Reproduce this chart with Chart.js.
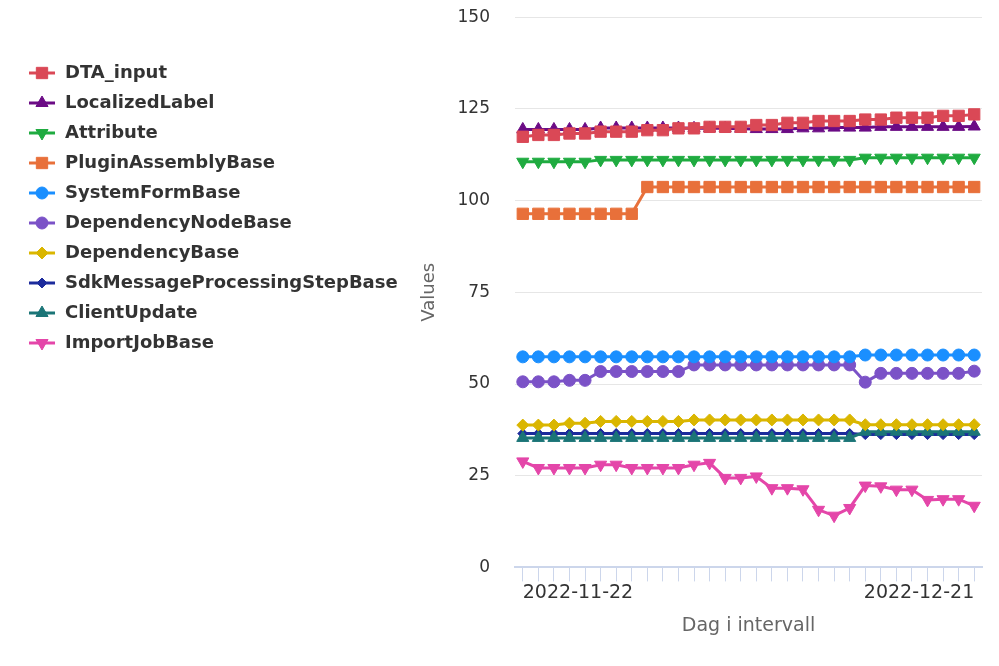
<!DOCTYPE html>
<html>
<head>
<meta charset="utf-8">
<script src="https://cdn.jsdelivr.net/npm/chart.js@4/dist/chart.umd.min.js"></script>
<style>
  html, body { margin: 0; padding: 0; background: #fff; }
  #wrap { width: 999px; height: 666px; }
</style>
</head>
<body>
<div id="wrap"><canvas id="chart" width="999" height="666"></canvas></div>
<script>
// x-axis days
const days = [
  '2022-11-22', '2022-11-23', '2022-11-24', '2022-11-25', '2022-11-26', '2022-11-27',
  '2022-11-28', '2022-11-29', '2022-11-30', '2022-12-01', '2022-12-02', '2022-12-03',
  '2022-12-04', '2022-12-05', '2022-12-06', '2022-12-07', '2022-12-08', '2022-12-09',
  '2022-12-10', '2022-12-11', '2022-12-12', '2022-12-13', '2022-12-14', '2022-12-15',
  '2022-12-16', '2022-12-17', '2022-12-18', '2022-12-19', '2022-12-20', '2022-12-21'
];

const yTicks = [0, 25, 50, 75, 100, 125, 150];

const dtaInput = [117.4, 117.9, 117.9, 118.3, 118.3, 118.8, 118.8, 118.8, 119.2, 119.2,
  119.7, 119.7, 120.1, 120.1, 120.1, 120.6, 120.6, 121.2, 121.2, 121.7,
  121.7, 121.7, 122.1, 122.1, 122.6, 122.6, 122.6, 123.1, 123.1, 123.5];
const localizedLabel = [119.4, 119.4, 119.4, 119.4, 119.4, 119.8, 119.8, 119.8, 119.8, 119.8,
  119.8, 119.7, 119.7, 119.7, 119.6, 119.5, 119.5, 119.5, 119.7, 119.7,
  119.9, 119.9, 119.9, 120.1, 120.1, 120.1, 120.1, 120.1, 120.1, 120.2];
const attribute = [110.6, 110.6, 110.6, 110.6, 110.6, 111.1, 111.1, 111.1, 111.1, 111.1,
  111.1, 111.1, 111.1, 111.1, 111.1, 111.1, 111.1, 111.1, 111.1, 111.1,
  111.1, 111.1, 111.7, 111.7, 111.7, 111.7, 111.7, 111.7, 111.7, 111.7];
const pluginAssemblyBase = [96.4, 96.4, 96.4, 96.4, 96.4, 96.4, 96.4, 96.4, 103.7, 103.7,
  103.7, 103.7, 103.7, 103.7, 103.7, 103.7, 103.7, 103.7, 103.7, 103.7,
  103.7, 103.7, 103.7, 103.7, 103.7, 103.7, 103.7, 103.7, 103.7, 103.7];
const systemFormBase = [57.4, 57.4, 57.4, 57.4, 57.4, 57.4, 57.4, 57.4, 57.4, 57.4,
  57.4, 57.4, 57.4, 57.4, 57.4, 57.4, 57.4, 57.4, 57.4, 57.4,
  57.4, 57.4, 57.9, 57.9, 57.9, 57.9, 57.9, 57.9, 57.9, 57.9];
const dependencyNodeBase = [50.6, 50.6, 50.6, 51.0, 51.0, 53.4, 53.4, 53.4, 53.4, 53.4,
  53.4, 55.2, 55.2, 55.2, 55.2, 55.2, 55.2, 55.2, 55.2, 55.2,
  55.2, 55.2, 50.5, 52.9, 52.9, 52.9, 52.9, 52.9, 52.9, 53.5];
const dependencyBase = [38.8, 38.8, 38.8, 39.3, 39.3, 39.8, 39.8, 39.8, 39.8, 39.8,
  39.8, 40.2, 40.2, 40.2, 40.2, 40.2, 40.2, 40.2, 40.2, 40.2,
  40.2, 40.2, 38.9, 38.9, 38.9, 38.9, 38.9, 38.9, 38.9, 38.9];
const sdkMessageProcessingStepBase = [36.5, 36.5, 36.5, 36.5, 36.5, 36.5, 36.5, 36.5, 36.5, 36.5,
  36.5, 36.5, 36.5, 36.5, 36.5, 36.5, 36.5, 36.5, 36.5, 36.5,
  36.5, 36.5, 36.2, 36.2, 36.2, 36.2, 36.2, 36.2, 36.2, 36.2];
const clientUpdate = [35.3, 35.3, 35.3, 35.3, 35.3, 35.3, 35.3, 35.3, 35.3, 35.3,
  35.3, 35.3, 35.3, 35.3, 35.3, 35.3, 35.3, 35.3, 35.3, 35.3,
  35.3, 35.3, 37.0, 37.0, 37.0, 37.0, 37.0, 37.0, 37.0, 37.0];
const importJobBase = [28.9, 27.1, 27.1, 27.1, 27.1, 28.0, 28.0, 27.1, 27.1, 27.1,
  27.1, 28.0, 28.5, 24.4, 24.4, 24.8, 21.6, 21.6, 21.3, 15.7,
  14.1, 16.2, 22.3, 22.1, 21.2, 21.2, 18.4, 18.6, 18.6, 16.8];

// label, data, colour, point style, radius, rotation
const series = [
  ['DTA_input', dtaInput, '#da4856', 'rect', 8, 0],
  ['LocalizedLabel', localizedLabel, '#6b0b85', 'triangle', 7, 0],
  ['Attribute', attribute, '#1fab40', 'triangle', 7, 180],
  ['PluginAssemblyBase', pluginAssemblyBase, '#e8703a', 'rect', 8, 0],
  ['SystemFormBase', systemFormBase, '#1a8fff', 'circle', 6, 0],
  ['DependencyNodeBase', dependencyNodeBase, '#7b52c7', 'circle', 6, 0],
  ['DependencyBase', dependencyBase, '#dab600', 'rectRot', 6, 0],
  ['SdkMessageProcessingStepBase', sdkMessageProcessingStepBase, '#1c2b9c', 'rectRot', 5, 0],
  ['ClientUpdate', clientUpdate, '#1b7577', 'triangle', 7, 0],
  ['ImportJobBase', importJobBase, '#e446a9', 'triangle', 7, 180]
];

const FONT = "'DejaVu Sans', sans-serif";

const datasets = series.map(s => ({
  label: s[0],
  data: s[1],
  borderColor: s[2],
  backgroundColor: s[2],
  borderWidth: 3,
  pointStyle: s[3],
  pointRadius: s[4],
  pointRotation: s[5],
  pointBorderWidth: 1,
  tension: 0,
  // ClientUpdate sits above SdkMessageProcessingStepBase
  order: s[0] === 'SdkMessageProcessingStepBase' ? 1 : 0
}));

// legend in the left margin: line + marker, bold label
const sideLegend = {
  id: 'sideLegend',
  afterDraw(chart) {
    const ctx = chart.ctx;
    ctx.save();
    chart.data.datasets.forEach((ds, i) => {
      const y = 73 + i * 30;
      ctx.strokeStyle = ds.borderColor;
      ctx.lineWidth = 3;
      ctx.beginPath();
      ctx.moveTo(29, y);
      ctx.lineTo(55, y);
      ctx.stroke();
      ctx.fillStyle = ds.backgroundColor;
      ctx.lineWidth = 1;
      Chart.helpers.drawPoint(ctx, {
        pointStyle: ds.pointStyle, radius: ds.pointRadius, rotation: ds.pointRotation, borderWidth: 1
      }, 42, y);
      ctx.fillStyle = '#333';
      ctx.font = 'bold 18px ' + FONT;
      ctx.textAlign = 'left';
      ctx.textBaseline = 'middle';
      ctx.fillText(ds.label, 65, y);
    });
    ctx.restore();
  }
};

new Chart(document.getElementById('chart'), {
  type: 'line',
  data: { labels: days, datasets: datasets },
  plugins: [sideLegend],
  options: {
    responsive: false,
    animation: false,
    layout: { padding: { top: 0, right: 17, bottom: 25, left: 409 } },
    plugins: {
      tooltip: { enabled: false },
      legend: { display: false }
    },
    scales: {
      x: {
        offset: true,
        grid: { drawOnChartArea: false, drawTicks: true, tickLength: 14, color: '#ccd6eb' },
        border: { color: '#ccd6eb', width: 2 },
        ticks: {
          autoSkip: false,
          maxRotation: 0,
          align: 'inner',
          padding: 0,
          color: '#333',
          font: { family: FONT, size: 19 },
          callback: function (val, idx) {
            return (idx === 0 || idx === days.length - 1) ? days[idx] : '';
          }
        },
        title: {
          display: true,
          text: 'Dag i intervall',
          color: '#666',
          font: { family: FONT, size: 19 },
          padding: { top: 10, bottom: 4 }
        }
      },
      y: {
        min: yTicks[0],
        max: yTicks[yTicks.length - 1],
        afterFit: scale => { scale.width = 106; },
        afterBuildTicks: scale => { scale.ticks = yTicks.map(v => ({ value: v })); },
        grid: { color: '#e6e6e6', drawTicks: true, tickLength: 18, tickColor: 'rgba(0,0,0,0)' },
        border: { display: false },
        ticks: {
          padding: 7,
          color: '#333',
          font: { family: FONT, size: 17 }
        },
        title: {
          display: true,
          text: 'Values',
          color: '#666',
          font: { family: FONT, size: 18 },
          padding: { top: 10, bottom: 10 }
        }
      }
    }
  }
});
</script>
</body>
</html>
